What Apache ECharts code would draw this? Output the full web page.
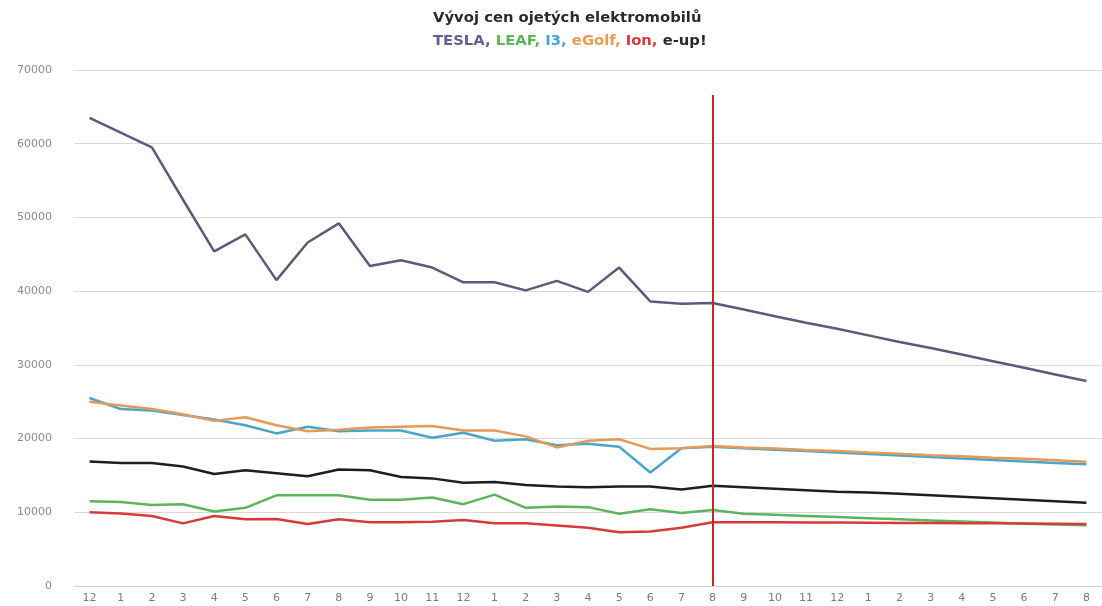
<!DOCTYPE html>
<html>
<head>
<meta charset="utf-8">
<script src="https://cdn.jsdelivr.net/npm/echarts@6/dist/echarts.min.js"></script>
<style>html,body{margin:0;padding:0;background:#fff}#c{width:1102px;height:606px}</style>
</head>
<body>
<div id="c"></div>
<script>
const categories = ['12','1','2','3','4','5','6','7','8','9','10','11','12','1','2','3','4','5','6','7','8','9','10','11','12','1','2','3','4','5','6','7','8'];
const tesla = [63500,61500,59500,52400,45400,47700,41500,46600,49200,43400,44200,43200,41200,41200,40100,41400,39900,43200,38600,38300,38400,37500,36600,35700,34900,34000,33100,32300,31400,30500,29600,28700,27800];
const leaf  = [11500,11400,11000,11100,10100,10600,12300,12300,12300,11700,11700,12000,11100,12400,10600,10800,10700,9800,10400,9900,10300,9800,9650,9500,9350,9200,9050,8900,8750,8600,8450,8350,8250];
const i3    = [25500,24000,23800,23200,22600,21800,20700,21600,21000,21100,21100,20100,20800,19700,19900,19100,19300,18900,15400,18700,18900,18700,18500,18300,18100,17900,17700,17500,17300,17100,16900,16700,16500];
const egolf = [25000,24500,24000,23300,22400,22900,21800,21000,21200,21500,21600,21700,21100,21100,20300,18800,19700,19900,18600,18700,19000,18800,18650,18450,18300,18100,17950,17750,17600,17400,17250,17050,16850];
const ion   = [10000,9850,9500,8500,9500,9050,9100,8400,9050,8650,8650,8700,8950,8500,8500,8200,7900,7300,7400,7900,8650,8650,8640,8620,8600,8580,8560,8540,8520,8500,8480,8460,8420];
const eup   = [16900,16700,16700,16200,15200,15700,15300,14900,15800,15700,14800,14600,14000,14100,13700,13500,13400,13500,13500,13100,13600,13400,13200,13000,12800,12700,12500,12300,12100,11900,11700,11500,11300];
const markerIndex = 20;
const markerTop = 66600;

const chart = echarts.init(document.getElementById('c'));
function line(name, data, color) {
  return { name, type: 'line', data, symbol: 'none', smooth: false,
    lineStyle: { color, width: 2.5 }, itemStyle: { color }, z: 3 };
}
const series = [
  line('TESLA', tesla, '#62577a'),
  line('LEAF', leaf, '#5cb55c'),
  line('I3', i3, '#4aa6c9'),
  line('eGolf', egolf, '#e49a58'),
  line('Ion', ion, '#d63a3a'),
  line('e-up!', eup, '#1e1e1e')
];
series[0].markLine = {
  silent: true, symbol: 'none', label: { show: false },
  lineStyle: { color: '#c4262c', width: 2, type: 'solid' },
  data: [[{ coord: [markerIndex, 0] }, { coord: [markerIndex, markerTop] }]]
};
const F = '"DejaVu Sans", sans-serif';
const st = c => ({ fontSize: 14.8, fontWeight: 'bold', color: c, lineHeight: 23, fontFamily: F });
chart.setOption({
  animation: false,
  backgroundColor: '#fff',
  title: {
    left: 428, top: 2,
    text: '{h|Vývoj cen ojetých elektromobilů}\n{t|TESLA, }{l|LEAF, }{i|I3, }{e|eGolf, }{o|Ion, }{u|e-up!}',
    textStyle: {
      fontFamily: F,
      rich: {
        h: st('#2a2a2a'), t: st('#6b5a93'), l: st('#5cb55c'), i: st('#3fa7d0'),
        e: st('#eb9b4f'), o: st('#d63a3a'), u: st('#2a2a2a')
      }
    }
  },
  grid: { left: 74, right: -2, top: 70, bottom: 20, containLabel: false },
  xAxis: {
    type: 'category', data: categories, boundaryGap: true,
    axisLine: { show: true, lineStyle: { color: '#d4d4d4', width: 1 } },
    axisTick: { show: false },
    axisLabel: { interval: 0, color: '#7a7a7a', fontSize: 11, margin: 7, fontFamily: F }
  },
  yAxis: {
    type: 'value', min: 0, max: 70000, interval: 10000,
    axisLine: { show: false }, axisTick: { show: false },
    splitLine: { lineStyle: { color: '#d9d9d9', width: 1 } },
    axisLabel: { color: '#8a8a8a', fontSize: 11, margin: 22, fontFamily: F, formatter: v => String(v) }
  },
  series
});
</script>
</body>
</html>
